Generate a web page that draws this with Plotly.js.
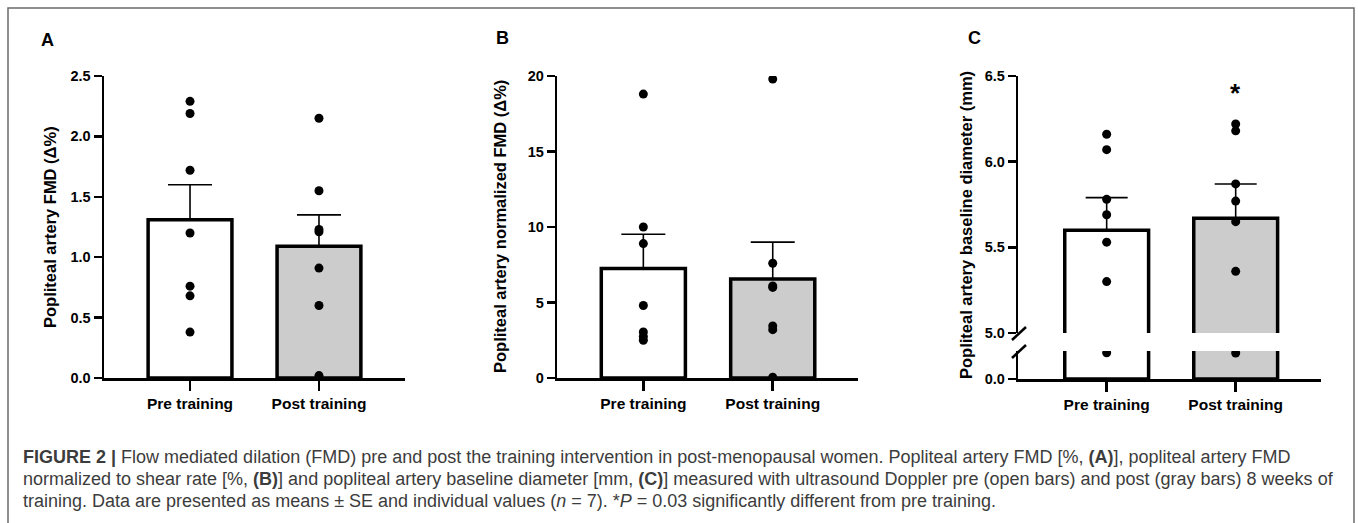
<!DOCTYPE html>
<html>
<head>
<meta charset="utf-8">
<script src="https://cdn.plot.ly/plotly-3.0.1.min.js"></script>
<style>
html,body{margin:0;padding:0;background:#ffffff;}
#chart{width:1358px;height:523px;}
</style>
</head>
<body>
<div id="chart"></div>
<script>
// ---------------- data ----------------
const categories = ['Pre training', 'Post training'];
const tickLabelsA = ['0.0', '0.5', '1.0', '1.5', '2.0', '2.5'];
const tickLabelsB = ['0', '5', '10', '15', '20'];
const tickLabelsCUpper = ['5.0', '5.5', '6.0', '6.5'];
const tickLabelsCLower = ['0.0'];

// Panel A: popliteal artery FMD (Δ%)
const fmdMean = [1.31, 1.09];
const fmdSE = [0.29, 0.26];
const fmdPre = [2.29, 2.19, 1.72, 1.20, 0.76, 0.68, 0.38];
const fmdPost = [2.15, 1.55, 1.23, 1.21, 0.91, 0.60, 0.02];

// Panel B: normalized FMD (Δ%)
const normMean = [7.25, 6.55];
const normSE = [2.27, 2.45];
const normPre = [18.8, 10.0, 8.9, 4.8, 3.05, 2.75, 2.5];
const normPost = [19.8, 7.6, 6.1, 6.0, 3.45, 3.2, 0.05];

// Panel C: baseline diameter (mm)
const diamMean = [5.60, 5.67];
const diamSE = [0.19, 0.20];
const diamPre = [6.16, 6.07, 5.78, 5.69, 5.53, 5.30, 4.67];
const diamPost = [6.22, 6.18, 5.87, 5.77, 5.65, 5.36, 4.64];
const diamBreak = 5.0;
const sigText = '*';
const sigValue = 6.40;

const captionLines = [
  '<b>FIGURE 2 |</b> Flow mediated dilation (FMD) pre and post the training intervention in post-menopausal women. Popliteal artery FMD [%, <b>(A)</b>], popliteal artery FMD',
  'normalized to shear rate [%, <b>(B)</b>] and popliteal artery baseline diameter [mm, <b>(C)</b>] measured with ultrasound Doppler pre (open bars) and post (gray bars) 8 weeks of',
  'training. Data are presented as means \u00b1 SE and individual values (<i>n</i> = 7). *<i>P</i> = 0.03 significantly different from pre training.'
];

// ---------------- helpers ----------------
const W = 1358, H = 523;
const px = v => v / W;
const py = v => 1 - v / H;
const FONT = 'Liberation Sans, Arial, sans-serif';
const barColors = ['#ffffff', '#cccccc'];

function barTrace(xa, ya, means, se, capW) {
  const t = {
    type: 'bar', x: categories, y: means, xaxis: xa, yaxis: ya,
    width: 0.65,
    marker: {color: barColors, line: {color: '#000', width: 3.5}},
    hoverinfo: 'skip', showlegend: false
  };
  if (se) {
    t.error_y = {type: 'data', symmetric: false, array: se, arrayminus: se.map(() => 0),
      color: '#000', thickness: 1.6, width: capW};
  }
  return t;
}
function pointTrace(xa, ya, pre, post) {
  return {
    type: 'scatter', mode: 'markers', xaxis: xa, yaxis: ya,
    x: pre.map(() => categories[0]).concat(post.map(() => categories[1])),
    y: pre.concat(post),
    marker: {color: '#000', size: 9},
    hoverinfo: 'skip', showlegend: false
  };
}

const data = [
  barTrace('x', 'y', fmdMean, fmdSE, 22),
  pointTrace('x', 'y', fmdPre, fmdPost),
  barTrace('x2', 'y2', normMean, normSE, 22),
  pointTrace('x2', 'y2', normPre, normPost),
  // Panel C lower segment
  barTrace('x3', 'y3', diamMean, null, 0),
  pointTrace('x3', 'y3', diamPre.filter(v => v < diamBreak), diamPost.filter(v => v < diamBreak)),
  // Panel C upper segment
  barTrace('x3', 'y4', diamMean, diamSE, 21),
  pointTrace('x3', 'y4', diamPre.filter(v => v >= diamBreak), diamPost.filter(v => v >= diamBreak))
];

const tickFont = {family: FONT, size: 14.5, color: '#000', weight: 700};
const xTickFont = {family: FONT, size: 15.5, color: '#000', weight: 700};

function xAxis(d0, d1, r0, r1, anchor) {
  return {
    domain: [px(d0), px(d1)], anchor: anchor, type: 'category',
    range: [r0, r1], showline: true, linecolor: '#000', linewidth: 2.5,
    ticks: 'outside', ticklen: 10, tickwidth: 2.5, tickcolor: '#000',
    showgrid: false, zeroline: false, tickfont: xTickFont, fixedrange: true
  };
}
function yAxis(top, bottom, r, tv, tt, anchor) {
  return {
    domain: [py(bottom), py(top)], anchor: anchor, range: r,
    tickvals: tv, ticktext: tt,
    showline: true, linecolor: '#000', linewidth: 2.5,
    ticks: 'outside', ticklen: 8, tickwidth: 2.5, tickcolor: '#000',
    showgrid: false, zeroline: false, tickfont: tickFont, fixedrange: true
  };
}
const tvA = tickLabelsA.map(Number);
const tvB = tickLabelsB.map(Number);
const tvCU = tickLabelsCUpper.map(Number);
const tvCL = tickLabelsCLower.map(Number);

const annFont = (size, weight) => ({family: FONT, size: size, color: '#000', weight: weight});

const annotations = [
  {text: 'A', x: px(47), y: py(40), font: annFont(18, 700)},
  {text: 'B', x: px(502), y: py(38), font: annFont(18, 700)},
  {text: 'C', x: px(974), y: py(38), font: annFont(18, 700)},
  {text: 'Popliteal artery FMD (\u0394%)', x: px(50), y: py(227), textangle: -90, font: annFont(16.5, 700)},
  {text: 'Popliteal artery normalized FMD (\u0394%)', x: px(500), y: py(227), textangle: -90, font: annFont(16.5, 700)},
  {text: 'Popliteal artery baseline diameter (mm)', x: px(966), y: py(225), textangle: -90, font: annFont(16.5, 700)},
  {text: sigText, xref: 'x3', yref: 'y4', x: categories[1], y: sigValue, yanchor: 'middle', font: annFont(26, 700), showarrow: false}
].map(a => Object.assign({xref: 'paper', yref: 'paper', showarrow: false, xanchor: 'center', yanchor: 'middle'}, a));

captionLines.forEach((t, i) => {
  annotations.push({
    text: t, xref: 'paper', yref: 'paper', x: px(21), y: py(457 + i * 22),
    xanchor: 'left', yanchor: 'middle', align: 'left', showarrow: false,
    font: {family: FONT, size: 18, color: '#3c3c3c'}
  });
});

const shapes = [
  {type: 'rect', xref: 'paper', yref: 'paper', x0: px(8), x1: px(1354), y0: py(540), y1: py(8),
   line: {color: '#6b6b6b', width: 1.5}, fillcolor: 'rgba(0,0,0,0)'},
  {type: 'line', xref: 'paper', yref: 'paper', x0: px(1012), y0: py(340), x1: px(1026), y1: py(327),
   line: {color: '#000', width: 2.5}},
  {type: 'line', xref: 'paper', yref: 'paper', x0: px(1012), y0: py(358), x1: px(1026), y1: py(345),
   line: {color: '#000', width: 2.5}}
];

const layout = {
  width: W, height: H,
  margin: {l: 0, r: 0, t: 0, b: 0},
  paper_bgcolor: '#ffffff', plot_bgcolor: 'rgba(0,0,0,0)',
  showlegend: false, bargap: 0,
  font: {family: FONT, color: '#000'},
  xaxis: xAxis(104, 405, -0.667, 1.667, 'y'),
  yaxis: yAxis(76, 378, [0, 2.5], tvA, tickLabelsA, 'x'),
  xaxis2: xAxis(557.3, 858, -0.665, 1.659, 'y2'),
  yaxis2: yAxis(76, 378, [0, 20], tvB, tickLabelsB, 'x2'),
  xaxis3: xAxis(1018.3, 1320.7, -0.685, 1.659, 'y3'),
  yaxis3: yAxis(351, 379, [0, diamBreak], tvCL, tickLabelsCLower, 'x3'),
  yaxis4: yAxis(76, 333, [diamBreak, 6.5], tvCU, tickLabelsCUpper, 'x3'),
  annotations: annotations,
  shapes: shapes
};

Plotly.newPlot('chart', data, layout, {staticPlot: true, displayModeBar: false});
</script>
</body>
</html>
